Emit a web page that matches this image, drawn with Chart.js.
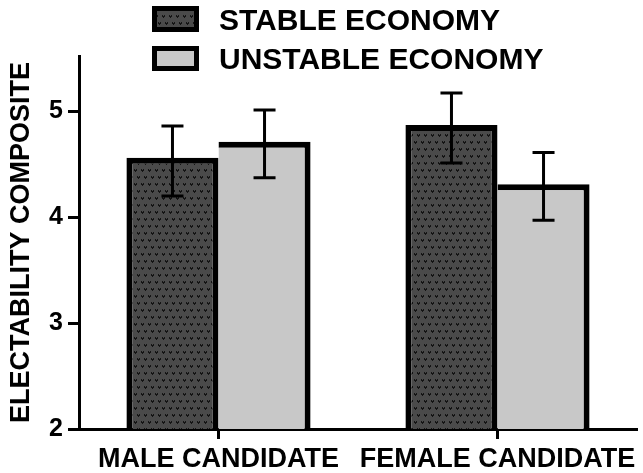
<!DOCTYPE html>
<html>
<head>
<meta charset="utf-8">
<script src="https://cdn.jsdelivr.net/npm/chart.js@4/dist/chart.umd.min.js"></script>
<style>
  html, body { margin: 0; padding: 0; background: #fff; }
  canvas { display: block; }
</style>
</head>
<body>
<canvas id="chart" width="643" height="473"></canvas>
<script>
const categories = ['MALE CANDIDATE', 'FEMALE CANDIDATE'];
const seriesNames = ['STABLE ECONOMY', 'UNSTABLE ECONOMY'];
const stableMeans = [4.56, 4.87];
const unstableMeans = [4.71, 4.31];
const stableLow = [4.20, 4.51];
const stableHigh = [4.86, 5.17];
const unstableLow = [4.37, 3.97];
const unstableHigh = [5.01, 4.61];
const yTicks = [2, 3, 4, 5];

const FONT = "'Liberation Sans', Arial, sans-serif";

// dark fill with small heart marks, used for the stable bars
function makePattern() {
    const c = document.createElement('canvas');
    c.width = 14;
    c.height = 14;
    const g = c.getContext('2d');
    g.fillStyle = '#4a4a4a';
    g.fillRect(0, 0, 14, 14);
    g.fillStyle = '#141414';
    [[1, 1], [8, 1], [4, 8], [11, 8]].forEach(([x, y]) => {
        g.fillRect(x, y, 1, 1);
        g.fillRect(x + 2, y, 1, 1);
        g.fillRect(x, y + 1, 3, 1);
        g.fillRect(x + 1, y + 2, 1, 1);
    });
    return document.getElementById('chart').getContext('2d').createPattern(c, 'repeat');
}
const darkFill = makePattern();
const lightFill = '#c8c8c8';

const errLow = [stableLow, unstableLow];
const errHigh = [stableHigh, unstableHigh];

const errorBars = {
    id: 'errorBars',
    afterDatasetsDraw(chart) {
        const ctx = chart.ctx;
        const y = chart.scales.y;
        ctx.save();
        ctx.strokeStyle = '#000';
        ctx.lineWidth = 3;
        chart.data.datasets.forEach((ds, d) => {
            chart.getDatasetMeta(d).data.forEach((bar, i) => {
                const top = y.getPixelForValue(errHigh[d][i]);
                const bot = y.getPixelForValue(errLow[d][i]);
                ctx.beginPath();
                ctx.moveTo(bar.x, top);
                ctx.lineTo(bar.x, bot);
                ctx.moveTo(bar.x - 11, top);
                ctx.lineTo(bar.x + 11, top);
                ctx.moveTo(bar.x - 11, bot);
                ctx.lineTo(bar.x + 11, bot);
                ctx.stroke();
            });
        });
        ctx.restore();
    }
};

const boxLegend = {
    id: 'boxLegend',
    afterDraw(chart) {
        const ctx = chart.ctx;
        const fills = [darkFill, lightFill];
        const rows = [{ top: 6, h: 26, base: 30 }, { top: 46, h: 25, base: 69 }];
        ctx.save();
        rows.forEach((r, i) => {
            ctx.fillStyle = fills[i];
            ctx.fillRect(152, r.top, 47, r.h);
            ctx.strokeStyle = '#000';
            ctx.lineWidth = 5;
            ctx.strokeRect(154.5, r.top + 2.5, 42, r.h - 5);
            ctx.fillStyle = '#000';
            ctx.font = 'bold 30px ' + FONT;
            ctx.textBaseline = 'alphabetic';
            ctx.fillText(seriesNames[i], 219, r.base);
        });
        ctx.restore();
    }
};

new Chart(document.getElementById('chart'), {
    type: 'bar',
    data: {
        labels: categories,
        datasets: [
            {
                label: seriesNames[0],
                data: stableMeans,
                backgroundColor: darkFill,
                borderColor: '#000',
                borderWidth: { top: 6, left: 6, right: 6, bottom: 0 },
                borderSkipped: false
            },
            {
                label: seriesNames[1],
                data: unstableMeans,
                backgroundColor: lightFill,
                borderColor: '#000',
                borderWidth: { top: 6, left: 0, right: 6, bottom: 0 },
                borderSkipped: false
            }
        ]
    },
    plugins: [errorBars, boxLegend],
    options: {
        responsive: false,
        animation: false,
        categoryPercentage: 0.66,
        barPercentage: 1,
        layout: { padding: { top: 56, right: 6, left: 0, bottom: 0 } },
        plugins: {
            legend: { display: false },
            tooltip: { enabled: false }
        },
        scales: {
            x: {
                afterFit: (s) => { s.height = 44; },
                grid: { offset: false, drawOnChartArea: false, drawTicks: true, tickLength: 10, tickWidth: 3, tickColor: '#000' },
                border: { display: true, color: '#000', width: 3 },
                ticks: {
                    autoSkip: false,
                    maxRotation: 0,
                    padding: 4,
                    color: '#000',
                    font: { family: FONT, size: 27, weight: 'bold' }
                }
            },
            y: {
                min: 2,
                max: 5.52,
                afterBuildTicks: (s) => { s.ticks = yTicks.map(v => ({ value: v })); },
                afterFit: (s) => { s.width = 79; },
                grid: { drawOnChartArea: false, drawTicks: true, tickLength: 11, tickWidth: 3, tickColor: '#000' },
                border: { display: true, color: '#000', width: 3 },
                ticks: {
                    padding: 5,
                    color: '#000',
                    font: { family: FONT, size: 25, weight: 'bold' }
                },
                title: {
                    display: true,
                    text: 'ELECTABILITY COMPOSITE',
                    color: '#000',
                    padding: { top: 5, bottom: 0 },
                    font: { family: FONT, size: 27, weight: 'bold' }
                }
            }
        }
    }
});
</script>
</body>
</html>
